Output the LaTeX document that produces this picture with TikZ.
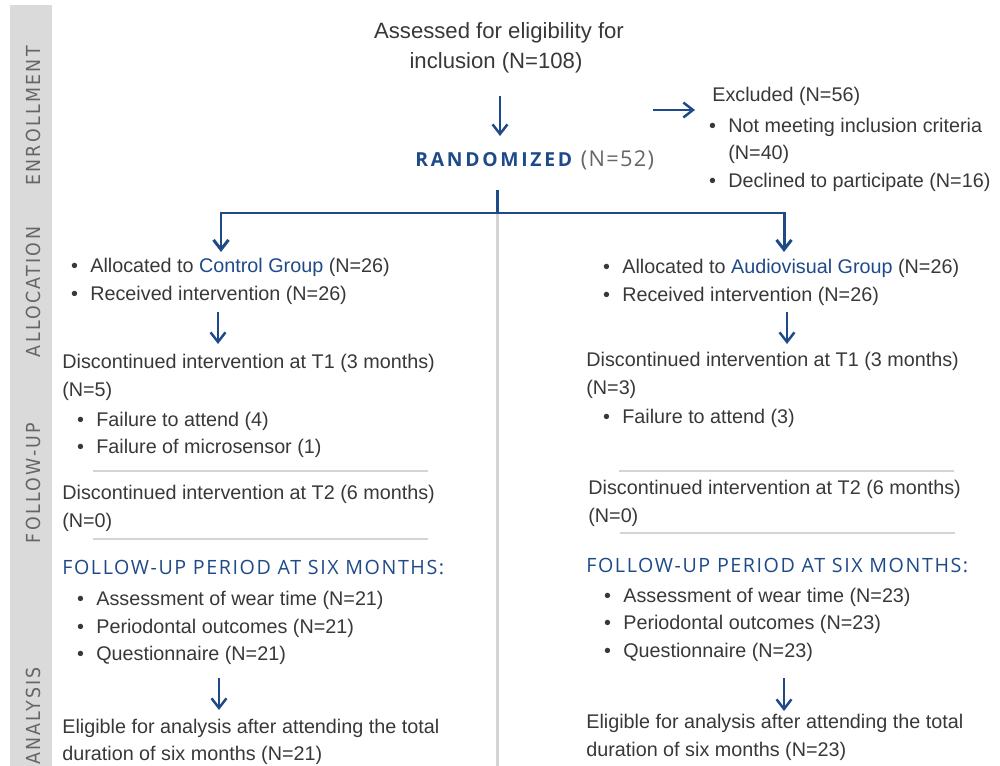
\documentclass[tikz,border=0pt]{standalone}
\usepackage{fontspec}
\setmainfont{Liberation Sans}
\newfontfamily\headfont[LetterSpace=8]{Open Sans}
\newfontfamily\randfont[LetterSpace=14]{Open Sans}
\newfontfamily\numfont[LetterSpace=6]{Open Sans}
\newfontfamily\sidefont[LetterSpace=12]{DejaVu Sans Condensed}
\usetikzlibrary{arrows.meta}

\definecolor{txt}{HTML}{383838}
\definecolor{navy}{HTML}{1F4A8A}
\definecolor{band}{HTML}{DADADA}
\definecolor{sidetxt}{HTML}{666666}
\definecolor{rulegray}{HTML}{D4D4D4}
\newcommand{\itm}{\llap{\textbullet\hspace{7pt}}}

\begin{document}
\begin{tikzpicture}[x=0.02cm,y=-0.02cm,
  every node/.style={inner sep=0pt,text=txt},
  body/.style={anchor=base west,font=\fontsize{11.25}{13}\selectfont},
  top/.style={anchor=base,font=\fontsize{12.6}{15}\selectfont},
  side/.style={rotate=90,font=\sidefont\fontsize{11}{13}\selectfont,text=sidetxt},
  head/.style={anchor=base west,font=\headfont\fontsize{11.2}{13}\selectfont,text=navy},
  link/.style={draw=navy,line width=1.7pt},
  arr/.style={draw=navy,line width=1.4pt,-{Straight Barb[length=5.5pt,width=8.5pt]}},
  sep/.style={draw=rulegray,line width=1.1pt}]

\useasboundingbox (0,0) rectangle (1000,766);

% side band and middle divider
\fill[band] (10,5) rectangle (52,780);
\draw[rulegray,line width=1.7pt] (497,213) -- (497,766);

\node[side] (enrol) at (33,116) {ENROLLMENT};
\node[side] (alloc) at (33,292) {ALLOCATION};
\node[side] (follow) at (33,483) {FOLLOW-UP};
\node[side] (analys) at (33,716) {ANALYSIS};

% enrollment
\node[top] (assess) at (499,39) {Assessed for eligibility for};
\node[top] (incl) at (496,69) {inclusion (N=108)};
\node[anchor=base west] (rand) at (415,167)
  {{\randfont\bfseries\fontsize{11}{13}\selectfont\color{navy}RANDOMIZED}\hspace{5pt}%
   {\numfont\fontsize{12.4}{13}\selectfont\color{sidetxt}(N=52)}};

\node[body] (excl) at (712,102) {Excluded (N=56)};
\node[body] (ex1) at (728,133) {\itm Not meeting inclusion criteria};
\node[body] (ex1n) at (728,160) {(N=40)};
\node[body] (ex2) at (728,188) {\itm Declined to participate (N=16)};

\coordinate (a0s) at (500,96);
\coordinate (a0e) at (500,136);
\coordinate (xs) at (653,110);
\coordinate (xe) at (695,110);
\draw[arr] (a0s) -- (a0e);
\draw[arr] (xs) -- (xe);

\coordinate (split) at (497,190);
\coordinate (join) at (497,213);
\coordinate (ctip) at (221,252);
\coordinate (atip) at (784,252);
\draw[link] (split) -- (join);
\draw[arr,line width=1.7pt] (join) -| (ctip);
\draw[arr,line width=1.7pt] (join) -| (atip);

% control group
\node[body] (ctrl1) at (90,273) {\itm Allocated to \textcolor{navy}{Control Group} (N=26)};
\node[body] (ctrl2) at (90,301) {\itm Received intervention (N=26)};
\coordinate (c1s) at (218,312);
\coordinate (c1e) at (218,344);
\draw[arr] (c1s) -- (c1e);
\node[body] (cdisc1) at (62,369) {Discontinued intervention at T1 (3 months)};
\node[body] (cdisc1n) at (62,397) {(N=5)};
\node[body] (cfail1) at (96,427) {\itm Failure to attend (4)};
\node[body] (cfail2) at (96,454) {\itm Failure of microsensor (1)};
\draw[sep] (93,471) -- (428,471);
\node[body] (cdisc2) at (62,499) {Discontinued intervention at T2 (6 months)};
\node[body] (cdisc2n) at (62,527) {(N=0)};
\draw[sep] (93,539) -- (428,539);
\node[head] (cfu) at (62,574) {FOLLOW-UP PERIOD AT SIX MONTHS:};
\node[body] (cfu1) at (96,605) {\itm Assessment of wear time (N=21)};
\node[body] (cfu2) at (96,633) {\itm Periodontal outcomes (N=21)};
\node[body] (cfu3) at (96,660) {\itm Questionnaire (N=21)};
\coordinate (c2s) at (219,678);
\coordinate (c2e) at (219,710);
\draw[arr] (c2s) -- (c2e);
\node[body] (celig1) at (62,733) {Eligible for analysis after attending the total};
\node[body] (celig2) at (62,760) {duration of six months (N=21)};

% audiovisual group
\node[body] (av1) at (622,274) {\itm Allocated to \textcolor{navy}{Audiovisual Group} (N=26)};
\node[body] (av2) at (622,302) {\itm Received intervention (N=26)};
\coordinate (v1s) at (787,312);
\coordinate (v1e) at (787,344);
\draw[arr] (v1s) -- (v1e);
\node[body] (adisc1) at (586,367) {Discontinued intervention at T1 (3 months)};
\node[body] (adisc1n) at (586,395) {(N=3)};
\node[body] (afail1) at (622,423) {\itm Failure to attend (3)};
\draw[sep] (619,471) -- (954,471);
\node[body] (adisc2) at (588,494) {Discontinued intervention at T2 (6 months)};
\node[body] (adisc2n) at (588,522) {(N=0)};
\draw[sep] (620,533) -- (955,533);
\node[head] (afu) at (586,572) {FOLLOW-UP PERIOD AT SIX MONTHS:};
\node[body] (afu1) at (623,602) {\itm Assessment of wear time (N=23)};
\node[body] (afu2) at (623,629) {\itm Periodontal outcomes (N=23)};
\node[body] (afu3) at (623,657) {\itm Questionnaire (N=23)};
\coordinate (v2s) at (784,678);
\coordinate (v2e) at (784,711);
\draw[arr] (v2s) -- (v2e);
\node[body] (aelig1) at (586,728) {Eligible for analysis after attending the total};
\node[body] (aelig2) at (586,756) {duration of six months (N=23)};
\end{tikzpicture}
\end{document}
